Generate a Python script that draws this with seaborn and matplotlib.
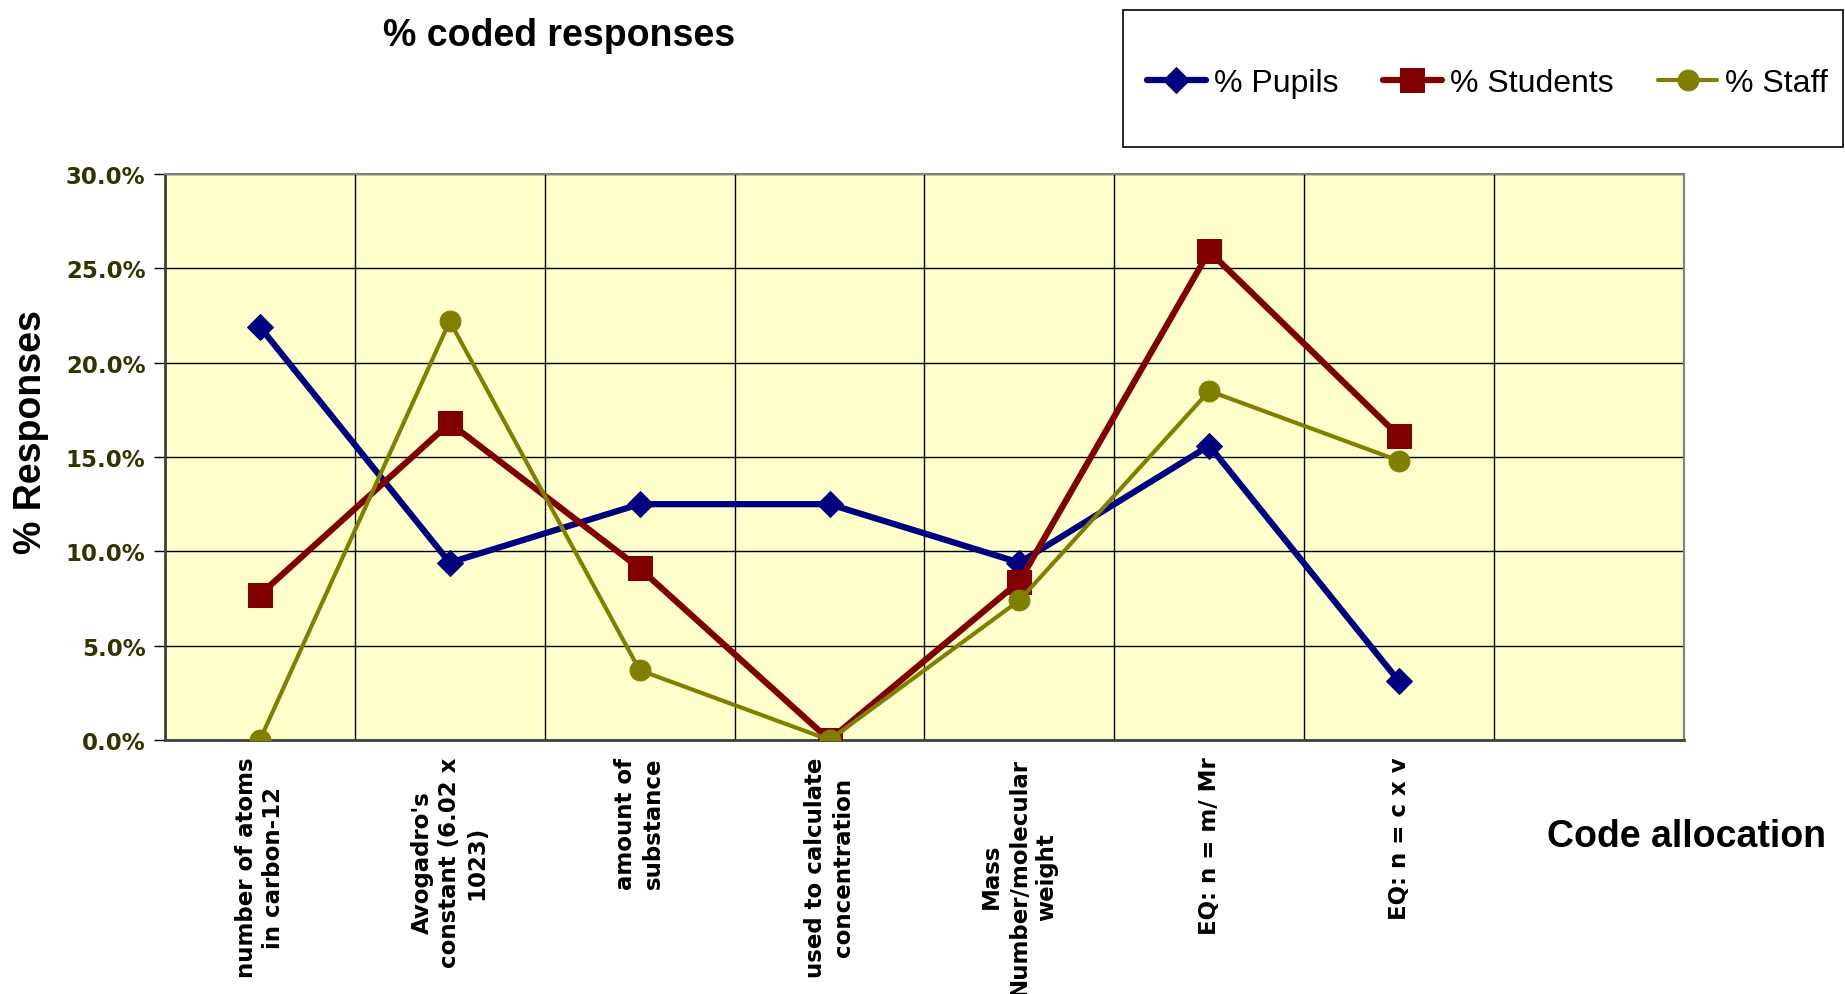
import numpy as np
import pandas as pd
import matplotlib
matplotlib.use("Agg")
import matplotlib.pyplot as plt
import seaborn as sns
from matplotlib.patches import Rectangle
from matplotlib.ticker import FuncFormatter, MultipleLocator

# ==========================================
# DATA
# ==========================================

categories = [
    "number of atoms\nin carbon-12",
    "Avogadro's\nconstant (6.02 x\n1023)",
    "amount of\nsubstance",
    "used to calculate\nconcentration",
    "Mass\nNumber/molecular\nweight",
    "EQ: n = m/ Mr",
    "EQ: n = c x v",
    "",
]

pupils = [21.9, 9.4, 12.5, 12.5, 9.4, 15.6, 3.1]
students = [7.7, 16.8, 9.1, 0.0, 8.4, 25.9, 16.1]
staff = [0.0, 22.2, 3.7, 0.0, 7.4, 18.5, 14.8]

series_names = ["% Pupils", "% Students", "% Staff"]
series_colors = ["#000080", "#800000", "#808000"]

# ==========================================
# FIGURE
# ==========================================

sns.set_style("white")
plt.rcParams["font.family"] = ["Liberation Sans", "DejaVu Sans"]
plt.rcParams["text.color"] = "black"
plt.rcParams["xtick.color"] = "black"
plt.rcParams["ytick.color"] = "black"

fig = plt.figure(figsize=(18.45, 9.95), dpi=100)
ax = fig.add_axes([0.0894, 0.2553, 0.8233, 0.5688])
ax.set_facecolor("#FFFFCC")

x_pos = np.arange(len(pupils))

styles = [
    dict(marker="D", markersize=13, linewidth=4.5),
    dict(marker="s", markersize=17, linewidth=4.5),
    dict(marker="o", markersize=15, linewidth=3.0),
]

for name, vals, col, st in zip(series_names, [pupils, students, staff], series_colors, styles):
    sns.lineplot(
        x=x_pos,
        y=vals,
        ax=ax,
        color=col,
        label=name,
        marker=st["marker"],
        markersize=st["markersize"],
        markeredgecolor=col,
        markerfacecolor=col,
        linewidth=st["linewidth"],
        sort=False,
        zorder=3,
    )

ax.get_legend().remove()

# axes limits / ticks
ax.set_xlim(-0.5, len(categories) - 0.5)
ax.set_ylim(0, 30)
ax.yaxis.set_major_locator(MultipleLocator(5))
ax.yaxis.set_major_formatter(FuncFormatter(lambda v, p: f"{v:.1f}%"))

ax.set_xticks(np.arange(len(categories)))
ax.set_xticklabels(categories, rotation=90, ha="center", va="top",
                   multialignment="center", fontsize=16.5, fontweight="bold",
                   family="DejaVu Sans", color="black", linespacing=1.25)
ax.set_xticks(np.arange(len(categories) + 1) - 0.5, minor=True)
ax.tick_params(axis="x", which="major", length=0, pad=12)
ax.tick_params(axis="x", which="minor", length=8, width=1, color="#404040", direction="out")

for lbl in ax.get_yticklabels():
    lbl.set_fontweight("bold")
    lbl.set_family("DejaVu Sans")
ax.tick_params(axis="y", which="major", labelsize=16.5, labelcolor="#333300",
               length=8, width=1, color="black", direction="out", pad=6)
ax.tick_params(left=True, bottom=True)

ax.grid(True, axis="y", which="major", color="black", linewidth=1)
ax.grid(True, axis="x", which="minor", color="black", linewidth=1)
ax.set_axisbelow(True)

for side in ["top", "right"]:
    ax.spines[side].set_color("#808080")
    ax.spines[side].set_linewidth(1.5)
for side in ["left", "bottom"]:
    ax.spines[side].set_color("#404040")
    ax.spines[side].set_linewidth(2)

ax.set_xlabel("")
ax.set_ylabel("")

# texts
fig.text(0.303, 0.964, "% coded responses", ha="center", va="center",
         fontsize=27, fontweight="bold")
fig.text(0.017, 0.566, "% Responses", ha="center", va="center",
         rotation=90, fontsize=27, fontweight="bold")
fig.text(0.914, 0.159, "Code allocation", ha="center", va="center",
         fontsize=27, fontweight="bold")

# legend box + legend
fig.patches.append(Rectangle((0.6085, 0.8513), 0.3905, 0.138,
                             transform=fig.transFigure, fill=False,
                             edgecolor="black", linewidth=1.2))

handles, labels = ax.get_legend_handles_labels()
leg = fig.legend(
    handles, labels,
    loc="center left",
    bbox_to_anchor=(0.6217, 0.9155),
    ncol=3,
    fontsize=23,
    frameon=False,
    borderpad=0,
    handlelength=1.84,
    handletextpad=0.25,
    columnspacing=1.4,
    borderaxespad=0,
)

fig.savefig("out.png", dpi=100)
